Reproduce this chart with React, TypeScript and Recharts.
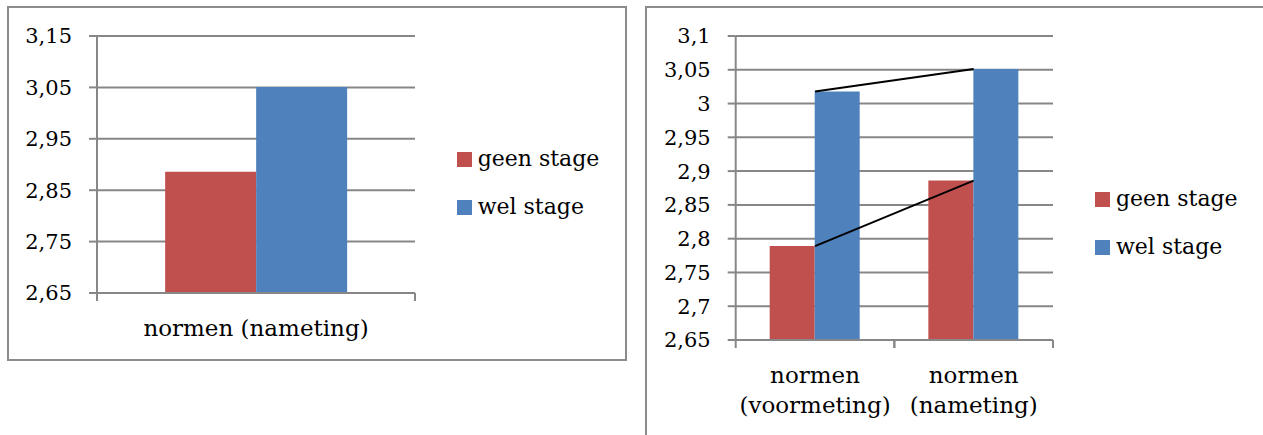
import { ComposedChart, Bar, Line, XAxis, YAxis, CartesianGrid, Legend } from 'recharts';

// left chart: only the post-measurement
const leftCategories = ['normen (nameting)'];
const leftGeen = [2.886];
const leftWel = [3.051];
const leftTicks = [2.65, 2.75, 2.85, 2.95, 3.05, 3.15];

// right chart: pre- and post-measurement
const rightCategories = ['normen (voormeting)', 'normen (nameting)'];
const rightGeen = [2.789, 2.886];
const rightWel = [3.018, 3.051];
const rightTicks = [2.65, 2.7, 2.75, 2.8, 2.85, 2.9, 2.95, 3, 3.05, 3.1];

const seriesNames = { geen: 'geen stage', wel: 'wel stage' };

const RED = '#C0504D';
const BLUE = '#4F81BD';
const GRID = '#878787';
const BORDER = '#8c8c8c';
const FONT = '"DejaVu Serif"';

function toRows(cats, geen, wel) {
    return cats.map((name, i) => ({ name, geen: geen[i], wel: wel[i] }));
}

const fmt = (v) => String(v).replace('.', ',');

function LegendBox({ payload }) {
    const items = (payload || []).filter((p) => p.type !== 'none');
    return (
        <div style={{ fontFamily: FONT, fontSize: 22, color: '#000' }}>
            {items.map((p) => (
                <div key={p.value} style={{ position: 'relative', height: 48, width: 180 }}>
                    <div style={{ position: 'absolute', left: 0, top: 0, width: 15, height: 15, background: p.color }} />
                    <span style={{ position: 'absolute', left: 21, top: -3.5, lineHeight: 1, whiteSpace: 'nowrap' }}>
                        {p.value}
                    </span>
                </div>
            ))}
        </div>
    );
}

type ChartProps = {
    width: number,
    height: number,
    margin: { top: number, right: number, bottom: number, left: number },
    rows: any[],
    ticks: number[],
    plotWidth: number,
    showLines?: boolean,
    wrapLabels?: boolean,
    legendPos: { left: number, top: number },
};

function StageChart({ width, height, margin, rows, ticks, plotWidth, showLines = false, wrapLabels = false, legendPos }: ChartProps) {
    const band = plotWidth / rows.length;

    const XTick = ({ x, y, payload }) => {
        const lines = wrapLabels ? payload.value.split(' ') : [payload.value];
        return (
            <g>
                <line x1={x - band / 2} x2={x - band / 2} y1={y} y2={y + 8} stroke={GRID} strokeWidth={2} />
                <line x1={x + band / 2} x2={x + band / 2} y1={y} y2={y + 8} stroke={GRID} strokeWidth={2} />
                {lines.map((t, i) => (
                    <text key={i} x={x} y={y + 43 + i * 30} textAnchor="middle" fill="#000"
                        style={{ fontFamily: FONT, fontSize: 23 }}>
                        {t}
                    </text>
                ))}
            </g>
        );
    };

    return (
        <ComposedChart width={width} height={height} data={rows} margin={margin}
            barCategoryGap="21.43%" barGap={0}>
            <CartesianGrid vertical={false} stroke={GRID} strokeWidth={2} />
            <XAxis dataKey="name" interval={0} height={60} tickSize={0} tickMargin={0} tickLine={false}
                axisLine={{ stroke: GRID, strokeWidth: 2 }} tick={XTick} />
            <YAxis type="number" domain={[ticks[0], ticks[ticks.length - 1]]} ticks={ticks} interval={0}
                width={80} tickSize={8} tickMargin={17} tickFormatter={fmt}
                axisLine={{ stroke: GRID, strokeWidth: 2 }} tickLine={{ stroke: GRID, strokeWidth: 2 }}
                tick={{ fill: '#000', fontSize: 21, fontFamily: FONT }} />
            <Legend layout="vertical" align="center" verticalAlign="middle" content={LegendBox}
                wrapperStyle={{ position: 'absolute', left: legendPos.left, top: legendPos.top, width: 200, height: 'auto' }} />
            <Bar dataKey="geen" name={seriesNames.geen} fill={RED} isAnimationActive={false} />
            <Bar dataKey="wel" name={seriesNames.wel} fill={BLUE} isAnimationActive={false} />
            {showLines && <Line type="linear" dataKey="geen" stroke="#000" strokeWidth={2} dot={false}
                activeDot={false} legendType="none" isAnimationActive={false} />}
            {showLines && <Line type="linear" dataKey="wel" stroke="#000" strokeWidth={2} dot={false}
                activeDot={false} legendType="none" isAnimationActive={false} />}
        </ComposedChart>
    );
}

export default function App() {
    const boxStyle = {
        position: 'absolute' as const,
        border: `2px solid ${BORDER}`,
        boxSizing: 'border-box' as const,
        background: '#fff',
    };
    return (
        <div style={{ position: 'absolute', left: 0, top: 0, width: 1263, height: 435, overflow: 'hidden', background: '#fff' }}>
            <div style={{ ...boxStyle, left: 7, top: 6, width: 620, height: 355 }}>
                <StageChart
                    width={616}
                    height={351}
                    margin={{ top: 28, right: 210, bottom: 6, left: 8 }}
                    rows={toRows(leftCategories, leftGeen, leftWel)}
                    ticks={leftTicks}
                    plotWidth={318}
                    legendPos={{ left: 447.7, top: 143.7 }}
                />
            </div>
            <div style={{ ...boxStyle, left: 645, top: 6, width: 700, height: 500 }}>
                <StageChart
                    width={696}
                    height={496}
                    margin={{ top: 28, right: 290, bottom: 104, left: 8.7 }}
                    rows={toRows(rightCategories, rightGeen, rightWel)}
                    ticks={rightTicks}
                    plotWidth={317.3}
                    showLines
                    wrapLabels
                    legendPos={{ left: 448, top: 183.7 }}
                />
            </div>
        </div>
    );
}
